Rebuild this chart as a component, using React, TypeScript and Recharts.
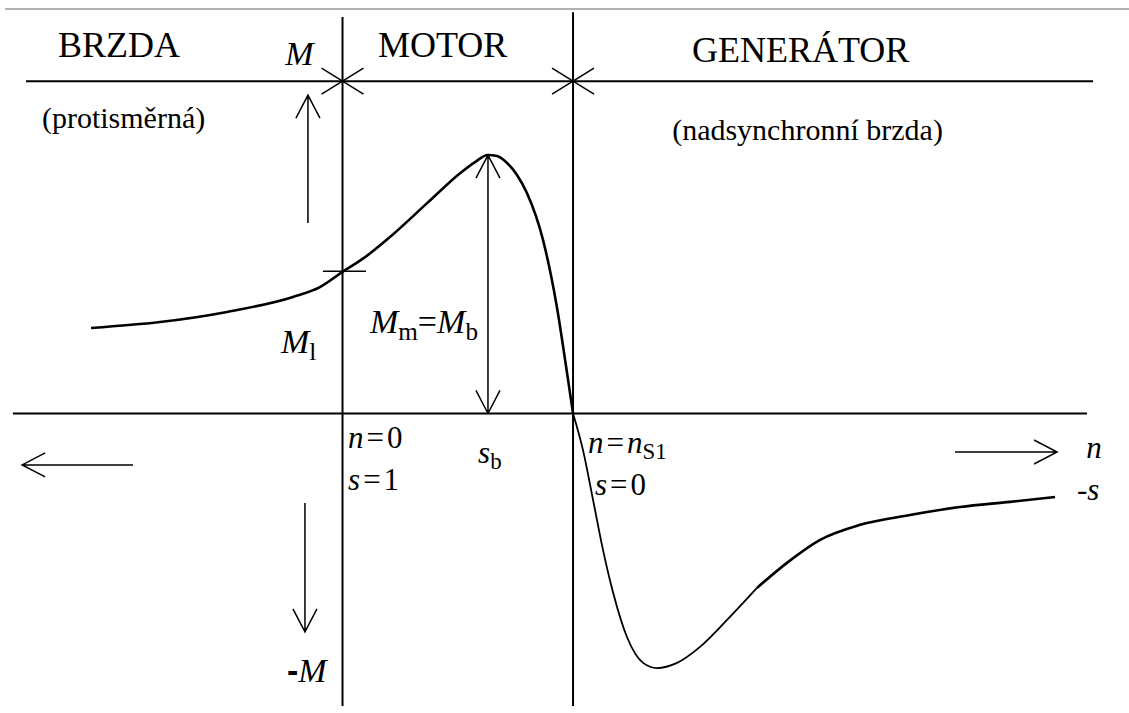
import React from "react";
import { ComposedChart, Line, XAxis, YAxis, ReferenceLine, ReferenceDot } from "recharts";

// torque-speed characteristic of an induction machine
// n is given in units of n_S1 (0 = standstill, 1 = synchronous), M in units of M_b
const brakeMotorCurve = [
  { n: -1.091, M: 0.331 },
  { n: -0.792, M: 0.354 },
  { n: -0.501, M: 0.393 },
  { n: -0.215, M: 0.451 },
  { n: -0.098, M: 0.489 },
  { n: 0, M: 0.548 },
  { n: 0.098, M: 0.605 },
  { n: 0.206, M: 0.683 },
  { n: 0.367, M: 0.814 },
  { n: 0.51, M: 0.93 },
  { n: 0.575, M: 0.973 },
  { n: 0.631, M: 1.0 },
  { n: 0.67, M: 0.996 },
  { n: 0.714, M: 0.969 },
  { n: 0.757, M: 0.923 },
  { n: 0.8, M: 0.853 },
  { n: 0.87, M: 0.671 },
  { n: 0.93, M: 0.412 },
  { n: 0.974, M: 0.157 },
  { n: 1.0, M: 0 },
];

const generatorNear = [
  { n: 1.0, M: 0 },
  { n: 1.043, M: -0.141 },
  { n: 1.087, M: -0.335 },
  { n: 1.13, M: -0.528 },
  { n: 1.174, M: -0.694 },
  { n: 1.234, M: -0.865 },
  { n: 1.304, M: -0.965 },
  { n: 1.364, M: -0.985 },
  { n: 1.451, M: -0.965 },
  { n: 1.551, M: -0.903 },
  { n: 1.668, M: -0.799 },
  { n: 1.798, M: -0.675 },
];

const generatorFar = [
  { n: 1.798, M: -0.675 },
  { n: 1.928, M: -0.578 },
  { n: 2.072, M: -0.489 },
  { n: 2.245, M: -0.431 },
  { n: 2.462, M: -0.393 },
  { n: 2.679, M: -0.362 },
  { n: 2.896, M: -0.342 },
  { n: 3.091, M: -0.323 },
];

// special points
const startTorque = 0.55; // M_l at n = 0
const breakdown = { n: 0.631, M: 1.0 }; // s_b, M_b

const regionTitles = ["BRZDA", "MOTOR", "GENERÁTOR"];
const regionNotes = ["(protisměrná)", "(nadsynchronní brzda)"];

const W = 1129;
const H = 713;
const serif = "'Liberation Serif', 'Times New Roman', Times, serif";

type Piece = { t: string; it?: boolean; sub?: boolean; dx?: number; sans?: boolean };

const textShape = (pieces: Piece[], size: number) => (p: any) => {
  const { cx, cy } = p;
  let down = false;
  const shift = size * 0.2;
  return (
    <text x={cx} y={cy} fontFamily={serif} fontSize={size} fill="#000">
      {pieces.map((pc, i) => {
        let dy = 0;
        if (pc.sub && !down) {
          dy = shift;
          down = true;
        } else if (!pc.sub && down) {
          dy = -shift;
          down = false;
        }
        return (
          <tspan
            key={i}
            dy={dy}
            dx={pc.dx}
            fontStyle={pc.it ? "italic" : "normal"}
            fontFamily={pc.sans ? "'Liberation Sans', Arial, sans-serif" : undefined}
            fontWeight={pc.sans ? "bold" : undefined}
            fontSize={pc.sub ? size * 0.74 : size}
          >
            {pc.t}
          </tspan>
        );
      })}
    </text>
  );
};

// open chevron arrowheads
const arrowShape = (both: boolean) => (p: any) => {
  const { x1, y1, x2, y2 } = p;
  const len = 26;
  const spread = 0.48;
  const head = (tx: number, ty: number, fx: number, fy: number) => {
    const a = Math.atan2(fy - ty, fx - tx);
    const ax = tx + len * Math.cos(a - spread);
    const ay = ty + len * Math.sin(a - spread);
    const bx = tx + len * Math.cos(a + spread);
    const by = ty + len * Math.sin(a + spread);
    return `M${ax},${ay}L${tx},${ty}L${bx},${by}`;
  };
  let d = `M${x1},${y1}L${x2},${y2}` + head(x2, y2, x1, y1);
  if (both) d += head(x1, y1, x2, y2);
  return <path d={d} fill="none" stroke="#000" strokeWidth={1.5} />;
};

export default function App() {
  const axisStroke = { stroke: "#000", strokeWidth: 2 };
  return (
    <div style={{ position: "absolute", left: 0, top: 0, width: W, height: H, background: "#fff" }}>
      <ComposedChart width={W} height={H} margin={{ top: 0, right: 0, bottom: 0, left: 0 }}>
        <XAxis type="number" dataKey="n" domain={[-1.486, 3.412]} hide allowDataOverflow />
        <YAxis type="number" dataKey="M" domain={[-1.159, 1.6]} hide allowDataOverflow />

        {/* frame */}
        <ReferenceLine segment={[{ n: -1.464, M: 1.565 }, { n: 3.412, M: 1.565 }].map((q) => ({ x: q.n, y: q.M }))} stroke="#999" strokeWidth={1.5} />
        <ReferenceLine segment={[{ x: -1.373, y: 1.286 }, { x: 3.256, y: 1.286 }]} {...axisStroke} />
        <ReferenceLine segment={[{ x: -1.43, y: 0 }, { x: 3.23, y: 0 }]} {...axisStroke} />
        <ReferenceLine segment={[{ x: 0, y: 1.534 }, { x: 0, y: -1.132 }]} {...axisStroke} />
        <ReferenceLine segment={[{ x: 1, y: 1.553 }, { x: 1, y: -1.132 }]} {...axisStroke} />

        {/* crosses on the region line */}
        {[0, 1].map((c) => (
          <ReferenceLine key={"a" + c} segment={[{ x: c - 0.091, y: 1.336 }, { x: c + 0.091, y: 1.236 }]} stroke="#000" strokeWidth={1.5} />
        ))}
        {[0, 1].map((c) => (
          <ReferenceLine key={"b" + c} segment={[{ x: c - 0.091, y: 1.236 }, { x: c + 0.091, y: 1.336 }]} stroke="#000" strokeWidth={1.5} />
        ))}

        {/* M_l tick */}
        <ReferenceLine segment={[{ x: -0.085, y: startTorque }, { x: 0.102, y: startTorque }]} stroke="#000" strokeWidth={1.5} />

        {/* direction arrows */}
        <ReferenceLine segment={[{ x: -0.15, y: 0.737 }, { x: -0.15, y: 1.232 }]} shape={arrowShape(false)} />
        <ReferenceLine segment={[{ x: -0.163, y: -0.346 }, { x: -0.163, y: -0.845 }]} shape={arrowShape(false)} />
        <ReferenceLine segment={[{ x: -0.909, y: -0.199 }, { x: -1.39, y: -0.199 }]} shape={arrowShape(false)} />
        <ReferenceLine segment={[{ x: 2.657, y: -0.149 }, { x: 3.1, y: -0.149 }]} shape={arrowShape(false)} />
        <ReferenceLine segment={[{ x: breakdown.n, y: 0 }, { x: breakdown.n, y: breakdown.M }]} shape={arrowShape(true)} />

        <Line data={brakeMotorCurve} dataKey="M" type="monotone" stroke="#000" strokeWidth={2.6} dot={false} activeDot={false} isAnimationActive={false} />
        <Line data={generatorNear} dataKey="M" type="monotone" stroke="#000" strokeWidth={1.8} dot={false} activeDot={false} isAnimationActive={false} />
        <Line data={generatorFar} dataKey="M" type="monotone" stroke="#000" strokeWidth={2.6} dot={false} activeDot={false} isAnimationActive={false} />

        {/* texts */}
        <ReferenceDot x={-1.234} y={1.379} shape={textShape([{ t: regionTitles[0] }], 36)} />
        <ReferenceDot x={0.154} y={1.379} shape={textShape([{ t: regionTitles[1] }], 36)} />
        <ReferenceDot x={1.516} y={1.36} shape={textShape([{ t: regionTitles[2] }], 36)} />
        <ReferenceDot x={-1.304} y={1.104} shape={textShape([{ t: regionNotes[0] }], 30)} />
        <ReferenceDot x={1.43} y={1.058} shape={textShape([{ t: regionNotes[1] }], 30)} />

        <ReferenceDot x={-0.249} y={1.35} shape={textShape([{ t: "M", it: true }], 34)} />
        <ReferenceDot x={-0.241} y={-1.039} shape={textShape([{ t: "-", sans: true }, { t: "M", it: true }], 34)} />
        <ReferenceDot x={-0.267} y={0.234} shape={textShape([{ t: "M", it: true }, { t: "l", sub: true }], 34)} />
        <ReferenceDot
          x={0.119}
          y={0.311}
          shape={textShape([{ t: "M", it: true }, { t: "m", sub: true }, { t: "=" }, { t: "M", it: true }, { t: "b", sub: true }], 34)}
        />
        <ReferenceDot x={0.024} y={-0.133} shape={textShape([{ t: "n", it: true }, { t: "=", dx: 3 }, { t: "0", dx: 3 }], 31)} />
        <ReferenceDot x={0.024} y={-0.296} shape={textShape([{ t: "s", it: true }, { t: "=", dx: 3 }, { t: "1", dx: 3 }], 31)} />
        <ReferenceDot x={0.588} y={-0.191} shape={textShape([{ t: "s", it: true }, { t: "b", sub: true }], 31)} />
        <ReferenceDot
          x={1.065}
          y={-0.153}
          shape={textShape([{ t: "n", it: true }, { t: "=", dx: 3 }, { t: "n", it: true, dx: 3 }, { t: "S1", sub: true }], 31)}
        />
        <ReferenceDot x={1.095} y={-0.315} shape={textShape([{ t: "s", it: true }, { t: "=", dx: 3 }, { t: "0", dx: 3 }], 31)} />
        <ReferenceDot x={3.226} y={-0.172} shape={textShape([{ t: "n", it: true }], 31)} />
        <ReferenceDot x={3.186} y={-0.335} shape={textShape([{ t: "-" }, { t: "s", it: true }], 31)} />
      </ComposedChart>
    </div>
  );
}
